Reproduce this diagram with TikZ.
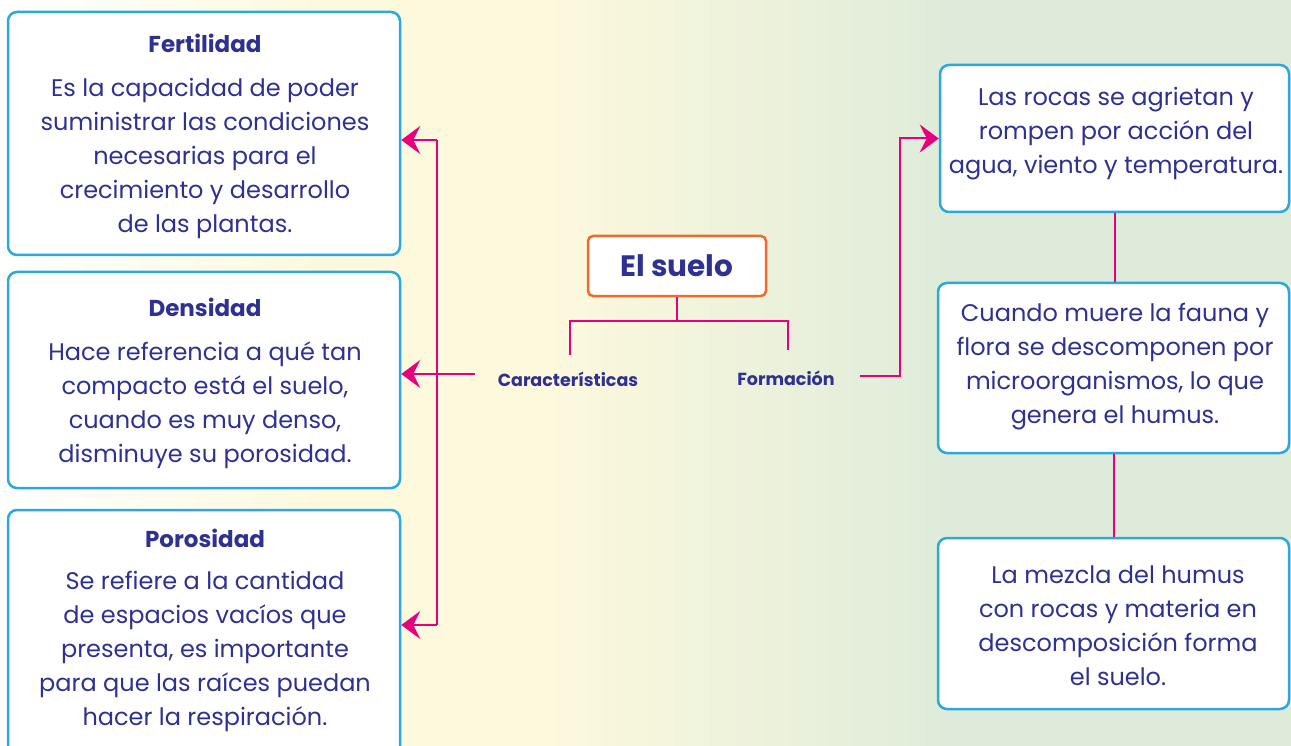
\documentclass[tikz,border=0pt]{standalone}
\usepackage{fontspec}
\setmainfont{Poppins}
\usetikzlibrary{arrows.meta}
\definecolor{txt}{HTML}{2E3192}
\definecolor{pk}{HTML}{E6007E}
\definecolor{cy}{HTML}{29A9E0}
\definecolor{org}{HTML}{F26A2A}
\definecolor{bgy}{HTML}{FDF9DD}
\definecolor{bgg}{HTML}{DEEBDA}
\pgfdeclarehorizontalshading{bgsh}{100bp}{color(0bp)=(bgy); color(25bp)=(white); color(38bp)=(bgy); color(46bp)=(bgy); color(62bp)=(bgg); color(75bp)=(bgg); color(100bp)=(bgg)}
\begin{document}
\begin{tikzpicture}[x=1pt,y=-1pt,
  box/.style={draw=cy, line width=2.5pt, fill=white, rounded corners=9pt, inner sep=0pt},
  ttl/.style={font=\fontsize{23}{26}\selectfont\bfseries, text=txt},
  body/.style={font=\fontsize{24}{34}\selectfont, text=txt, align=center},
  small/.style={font=\fontsize{17.5}{20}\selectfont\bfseries, text=txt},
  link/.style={draw=pk, line width=2pt},
  arr/.style={link, -{Stealth[length=19pt,width=28pt,inset=7pt]}}]
\useasboundingbox (0,0) rectangle (1291,746);
\clip (0,0) rectangle (1291,746);
\shade[shading=bgsh] (0,0) rectangle (1291,746);
% left boxes
\node[box, minimum width=392pt, minimum height=243pt] (fert) at (204,133.5) {};
\node[box, minimum width=392pt, minimum height=216pt] (dens) at (204,380) {};
\node[box, minimum width=392pt, minimum height=250pt] (pors) at (204,635) {};
\node[ttl] (fertT) at (205,43) {Fertilidad};
\node[body] (fertB) at (205,158) {Es la capacidad de poder\\suministrar las condiciones\\necesarias para el\\crecimiento y desarrollo\\de las plantas.};
\node[ttl] (densT) at (205,307) {Densidad};
\node[body] (densB) at (205,405) {Hace referencia a qué tan\\compacto está el suelo,\\cuando es muy denso,\\disminuye su porosidad.};
\node[ttl] (porsT) at (205,538) {Porosidad};
\node[body] (porsB) at (205,651.5) {Se refiere a la cantidad\\de espacios vacíos que\\presenta, es importante\\para que las raíces puedan\\hacer la respiración.};
% right boxes
\node[box, minimum width=349pt, minimum height=147pt] (r1) at (1114.5,138.5) {};
\node[box, minimum width=351pt, minimum height=170pt] (r2) at (1113.5,368) {};
\node[box, minimum width=351pt, minimum height=171pt] (r3) at (1113.5,623.5) {};
\node[body] (r1B) at (1116,133.5) {Las rocas se agrietan y\\rompen por acción del\\agua, viento y temperatura.};
\node[body] (r2B) at (1115,367) {Cuando muere la fauna y\\flora se descomponen por\\microorganismos, lo que\\genera el humus.};
\node[body] (r3B) at (1118,626) {La mezcla del humus\\con rocas y materia en\\descomposición forma\\el suelo.};
% centre
\node[draw=org, line width=2.5pt, fill=white, rounded corners=5pt, minimum width=178pt, minimum height=60pt, font=\fontsize{29.5}{32}\selectfont\bfseries, text=txt] (suelo) at (677,266) {El suelo};
\node[small] (car) at (568,379) {Características};
\node[small] (form) at (786,378) {Formación};
% connectors
\coordinate (jL) at (570,321);
\coordinate (jR) at (788,321);
\coordinate (jLb) at (570,355);
\coordinate (jRb) at (788,350);
\draw[link] (suelo.south) -- (suelo.south |- jL);
\draw[link] (jLb) -- (jL) -- (jR) -- (jRb);
\coordinate (cL) at (475,374);
\coordinate (vT) at (437,140);
\coordinate (vB) at (437,625);
\draw[arr] (cL) -- (dens.east |- cL);
\draw[link] (vT) -- (vB);
\draw[arr] (vT) -- (fert.east |- vT);
\draw[arr] (vB) -- (pors.east |- vB);
\coordinate (fR) at (860,376);
\coordinate (rv) at (900,376);
\draw[arr] (fR) -- (rv) |- (r1.west);
\draw[link] (r1.south) -- (r1.south |- r2.north);
\draw[link] (r2.south) -- (r2.south |- r3.north);
\end{tikzpicture}
\end{document}
